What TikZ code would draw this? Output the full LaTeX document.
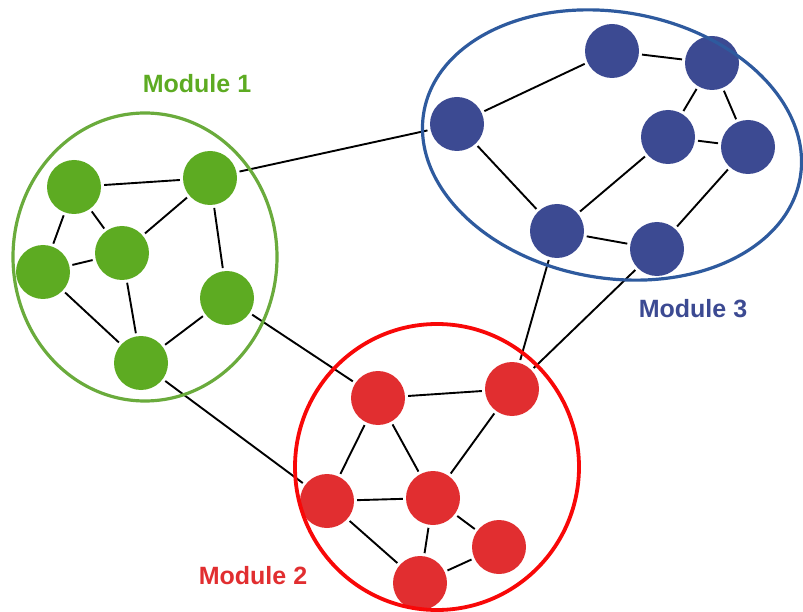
\documentclass[tikz,border=0pt]{standalone}
\usepackage{fontspec}
\setmainfont{Liberation Sans}
\definecolor{gnode}{HTML}{5DAB22}
\definecolor{gring}{HTML}{6AAB3C}
\definecolor{bnode}{HTML}{3C4A92}
\definecolor{bring}{HTML}{2E5A9E}
\definecolor{rnode}{HTML}{E12E30}
\definecolor{rring}{HTML}{F80808}
\tikzset{
  vert/.style={circle, inner sep=0pt, minimum size=54pt},
  gv/.style={vert, fill=gnode},
  bv/.style={vert, fill=bnode},
  rv/.style={vert, fill=rnode},
  link/.style={black, line width=1.9pt},
  ring/.style={line width=3.2pt},
  modlabel/.style={font=\fontsize{25}{30}\selectfont\bfseries, inner sep=0pt},
}
\begin{document}
\begin{tikzpicture}[x=1pt, y=-1pt]
\useasboundingbox (0,0) rectangle (803,612);

% Module 1
\node[gv] (g1) at (74,187) {};
\node[gv] (g2) at (210,178) {};
\node[gv] (g3) at (122,253) {};
\node[gv] (g4) at (43,272) {};
\node[gv] (g5) at (227,298) {};
\node[gv] (g6) at (141,363) {};

% Module 3
\node[bv] (b1) at (457,124) {};
\node[bv] (b2) at (612,51) {};
\node[bv] (b3) at (712,63) {};
\node[bv] (b4) at (668,137) {};
\node[bv] (b5) at (748,147) {};
\node[bv] (b6) at (557,231) {};
\node[bv] (b7) at (657,249) {};

% Module 2
\node[rv] (r1) at (378,398) {};
\node[rv] (r2) at (512,389) {};
\node[rv] (r3) at (327,501) {};
\node[rv] (r4) at (433,498) {};
\node[rv] (r5) at (499,547) {};
\node[rv] (r6) at (420,583) {};

% links inside the modules
\foreach \a/\b in {g1/g2, g1/g3, g1/g4, g2/g3, g2/g5, g3/g4, g3/g6, g4/g6, g5/g6,
                   b1/b2, b2/b3, b3/b4, b3/b5, b4/b5, b4/b6, b5/b7, b1/b6, b6/b7,
                   r1/r2, r1/r3, r1/r4, r2/r4, r3/r4, r3/r6, r4/r6, r4/r5, r5/r6}
  \draw[link, shorten <=3pt, shorten >=3pt] (\a) -- (\b);

% links between the modules
\foreach \a/\b in {g2/b1, g5/r1, g6/r3, b6/r2, b7/r2}
  \draw[link, shorten <=3pt, shorten >=3pt] (\a) -- (\b);

% module outlines
\draw[ring, gring] (145,257) ellipse [x radius=132, y radius=144];
\draw[ring, bring] (612,145) ellipse [x radius=191, y radius=133, rotate=-10];
\draw[ring, rring, line width=3.8pt] (437,467) ellipse [x radius=142, y radius=143];

% labels
\node[modlabel, text=gnode, anchor=base] (l1) at (197,93) {Module 1};
\node[modlabel, text=bnode, anchor=base] (l3) at (693,317) {Module 3};
\node[modlabel, text=rnode, anchor=base] (l2) at (253,584) {Module 2};
\end{tikzpicture}
\end{document}
